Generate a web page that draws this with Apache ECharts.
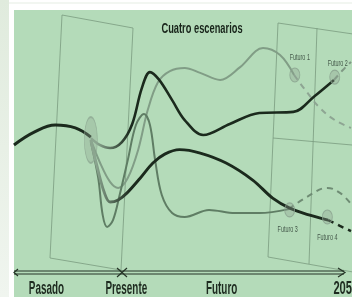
<!DOCTYPE html>
<html><head><meta charset="utf-8">
<script src="https://cdn.jsdelivr.net/npm/echarts@6/dist/echarts.min.js"></script>
<style>html,body{margin:0;padding:0;background:#fff}#c{width:352px;height:297px}</style>
</head><body><div id="c"></div>
<script>
// x = año, y = nivel (0-100)
const title = 'Cuatro escenarios';
const axisLabelYears = [2009.8, 2020.6, 2033.5, 2050.3];
const axisLabelTexts = ['Pasado', 'Presente', 'Futuro', '2050'];

const pasado = [[2005.4,48.5],[2008.2,53.5],[2011.0,56.1],[2013.7,55.0],[2015.8,51.5]];

const futuro1 = [[2015.8,50.4],[2017.0,42.0],[2018.4,34.4],[2019.5,32.1],[2020.8,35.9],[2022.2,46.6],[2023.5,61.8],[2024.9,72.5],[2026.5,76.7],[2028.5,77.9],[2030.6,76.0],[2033.3,73.3],[2036.0,78.2],[2039.1,85.5],[2041.4,82.8],[2043.3,75.2]];
const futuro1Proy = [[2043.3,75.2],[2044.8,69.5],[2046.8,62.6],[2048.8,58.0],[2051,55.0]];

const futuro2 = [[2015.8,51.1],[2017.0,48.5],[2018.4,47.3],[2020.0,49.6],[2021.4,56.5],[2022.7,70.2],[2023.8,76.3],[2025.0,73.5],[2026.8,65.6],[2028.5,58.0],[2031.0,52.3],[2034.6,56.5],[2038.6,60.7],[2043.2,61.1],[2046.1,67.2],[2048.7,73.3]];
const futuro2Proy = [[2048.7,73.3],[2049.9,77.1],[2051,80.2]];

const futuro3 = [[2015.8,49.6],[2016.8,35.9],[2017.4,21.8],[2018.0,17.2],[2018.8,19.8],[2019.7,29.4],[2020.8,42.7],[2021.9,56.1],[2023.0,60.3],[2023.8,56.1],[2024.5,42.7],[2025.4,29.4],[2026.8,22.5],[2028.5,21.0],[2031.8,23.7],[2035.3,22.5],[2038.6,22.5],[2042.6,24.0]];
const futuro3Proy = [[2042.6,24.0],[2045.0,28.6],[2047.8,32.1],[2049.5,30.2],[2051,26.0]];

const futuro4 = [[2015.8,50.4],[2016.6,40.8],[2017.6,30.5],[2018.4,26.7],[2019.5,27.5],[2020.7,30.2],[2022.5,35.9],[2024.2,41.6],[2025.8,45.0],[2027.8,46.7],[2030.6,45.4],[2034.1,41.6],[2037.7,35.1],[2040.4,28.2],[2042.7,24.4],[2045.3,21.8],[2047.9,19.8]];
const futuro4Proy = [[2047.9,19.8],[2049.5,17.6],[2051,15.6]];

const presente = [[2015.8,50.4]];
const futuroNombres = ['Futuro 1','Futuro 2','Futuro 3','Futuro 4'];
const futuroPuntos = [[2043.4,75.2],[2048.8,74.4],[2042.7,23.7],[2047.8,21.0]];

const chart = echarts.init(document.getElementById('c'), null, {renderer:'canvas'});
const FONT = '"Liberation Sans","Arimo",Arial,sans-serif';
const dark = '#1b2a1d';
const fadeToDark = {type:'linear', x:96, y:0, x2:130, y2:0, global:true,
  colorStops:[{offset:0,color:'#8aa58f'},{offset:1,color:dark}]};
const frameStroke = {stroke:'#7a9a7f', lineWidth:0.8, fill:null};
const axisStroke = {stroke:'#243326', lineWidth:1};
const labelOffsets = [[5,-17],[3,-14],[-2,20],[0,21]];

const baseGraphics = [
  {type:'rect', shape:{x:0,y:0,width:9,height:297}, style:{fill:{type:'linear',x:0,y:0,x2:0,y2:1,colorStops:[{offset:0,color:'#e0ebdd'},{offset:1,color:'#f0f5ef'}]}}, z:0, silent:true},
  {type:'rect', shape:{x:9,y:2.5,width:343,height:1}, style:{fill:'#e6eee4'}, z:0, silent:true},
  {type:'rect', shape:{x:14,y:10,width:338,height:287}, style:{fill:'#b4dbb9'}, z:0, silent:true},
  {type:'polygon', shape:{points:[[62,15],[133,28],[121,270],[50,258]]}, style:frameStroke, z:1, silent:true},
  {type:'polygon', shape:{points:[[278,23],[353,34],[353,272],[268,257]]}, style:frameStroke, z:1, silent:true},
  {type:'line', shape:{x1:317,y1:28,x2:309,y2:264}, style:frameStroke, z:1, silent:true},
  {type:'line', shape:{x1:273,y1:138,x2:352,y2:145}, style:frameStroke, z:1, silent:true},
  {type:'line', shape:{x1:14,y1:271,x2:344,y2:271}, style:axisStroke, z:10, silent:true},
  {type:'line', shape:{x1:14,y1:274,x2:344,y2:274}, style:axisStroke, z:10, silent:true},
  {type:'polyline', shape:{points:[[338,268],[345,272.5],[338,277]]}, style:{stroke:'#243326',lineWidth:1.2,fill:null}, z:10, silent:true},
  {type:'polyline', shape:{points:[[18,269],[14,272.5],[18,276]]}, style:{stroke:'#243326',lineWidth:1.2,fill:null}, z:10, silent:true},
  {type:'line', shape:{x1:117,y1:268,x2:127,y2:277}, style:{stroke:'#243326',lineWidth:1.2}, z:10, silent:true},
  {type:'line', shape:{x1:127,y1:268,x2:117,y2:277}, style:{stroke:'#243326',lineWidth:1.2}, z:10, silent:true}
];

chart.setOption({
  backgroundColor:'#ffffff',
  animation:false,
  grid:{left:11, right:1, top:10, bottom:25, containLabel:false, outerBoundsMode:'none'},
  xAxis:{type:'value', min:2005, max:2051, axisLine:{show:false}, axisTick:{show:false}, splitLine:{show:false}, axisLabel:{show:false}},
  yAxis:{type:'value', min:0, max:100, show:false},
  graphic:baseGraphics,
  series:[
    {type:'line', data:pasado, smooth:0.4, symbol:'none', z:4, lineStyle:{color:dark, width:3}},
    {type:'line', data:futuro1, smooth:0.35, symbol:'none', z:3, lineStyle:{color:'#819d86', width:2}},
    {type:'line', data:futuro1Proy, smooth:0.4, symbol:'none', z:3, lineStyle:{color:'#8ea593', width:2, type:[6,5]}},
    {type:'line', data:futuro3, smooth:0.35, symbol:'none', z:3, lineStyle:{color:'#5f7d64', width:2}},
    {type:'line', data:futuro3Proy, smooth:0.4, symbol:'none', z:3, lineStyle:{color:'#6f8c74', width:2, type:[6,5]}},
    {type:'line', data:futuro2, smooth:0.35, symbol:'none', z:4, lineStyle:{color:fadeToDark, width:2.6}},
    {type:'line', data:futuro2Proy, smooth:0.4, symbol:'none', z:4, lineStyle:{color:'#7f9884', width:2, type:[6,5]}},
    {type:'line', data:futuro4, smooth:0.35, symbol:'none', z:4, lineStyle:{color:fadeToDark, width:2.9}},
    {type:'line', data:futuro4Proy, smooth:0.4, symbol:'none', z:4, lineStyle:{color:dark, width:2.5, type:[6,5]}},
    {type:'scatter', data:presente, symbol:'circle', symbolSize:[13,46], z:5,
      itemStyle:{color:'rgba(140,165,143,0.45)', borderColor:'#8fa993', borderWidth:1}},
    {type:'scatter', data:futuroPuntos, symbol:'circle', symbolSize:[10,14], z:5,
      itemStyle:{color:'rgba(140,160,143,0.45)', borderColor:'#8aa18e', borderWidth:1}}
  ]
});

// Text placed through the axes' scale, horizontally condensed
function condensedText(txt, x, y, font, fill, sx){
  return {type:'text', x:x, y:y, scaleX:sx, z:20, silent:true,
    style:{text:txt, x:0, y:0, font:font, fill:fill, align:'center', verticalAlign:'middle'}};
}
const texts = [];
texts.push(condensedText(title, 202, 28.5, 'bold 15.5px ' + FONT, '#18241a', 0.6));
axisLabelYears.forEach((yr, i) => {
  const p = chart.convertToPixel({gridIndex:0}, [yr, 0]);
  texts.push(condensedText(axisLabelTexts[i], p[0], 289, 'bold 18px ' + FONT, '#1e2b20', i === 3 ? 0.62 : 0.55));
});
futuroPuntos.forEach((pt, i) => {
  const p = chart.convertToPixel({gridIndex:0}, pt);
  texts.push(condensedText(futuroNombres[i], p[0] + labelOffsets[i][0], p[1] + labelOffsets[i][1], '9px ' + FONT, '#44584a', 0.6));
});
chart.setOption({graphic: baseGraphics.concat(texts)});
</script></body></html>
